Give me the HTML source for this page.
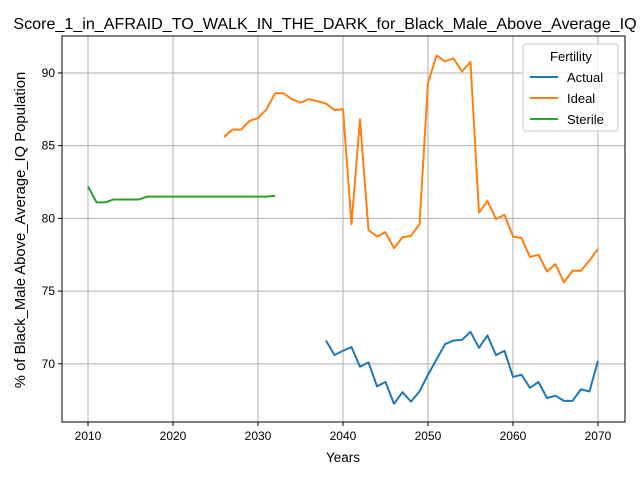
<!DOCTYPE html>
<html><head><meta charset="utf-8"><style>
body{margin:0;background:#fff;}
svg text{font-family:"Liberation Sans","DejaVu Sans",sans-serif;}
</style></head><body>
<svg id="chart" width="640" height="480" xmlns="http://www.w3.org/2000/svg">
<rect width="640" height="480" fill="#fff"/>
<g id="grid"></g>
<g id="series"></g>
<rect x="62" y="36" width="563" height="386" fill="none" stroke="#000" stroke-width="1"/>
<g id="axes"></g>
<text x="325" y="29" font-size="16.1" text-anchor="middle">Score_1_in_AFRAID_TO_WALK_IN_THE_DARK_for_Black_Male_Above_Average_IQ</text>
<text x="343" y="462" font-size="13.5" text-anchor="middle">Years</text>
<text transform="translate(25,230) rotate(-90)" font-size="14.8" text-anchor="middle">% of Black_Male Above_Average_IQ Population</text>
<g>
<rect x="523" y="44" width="95" height="87" rx="3" fill="#fff" fill-opacity="0.8" stroke="#ccc"/>
<text x="571" y="61" font-size="13" text-anchor="middle">Fertility</text>
<g><line x1="530" y1="77" x2="558" y2="77" stroke="#1f77b4" stroke-width="2"/><text x="567" y="82" font-size="13">Actual</text></g>
<g><line x1="530" y1="98" x2="558" y2="98" stroke="#ff7f0e" stroke-width="2"/><text x="567" y="103" font-size="13">Ideal</text></g>
<g><line x1="530" y1="119" x2="558" y2="119" stroke="#2ca02c" stroke-width="2"/><text x="567" y="124" font-size="13">Sterile</text></g>
</g>
</svg>
<script>
const xTicks=[2010,2020,2030,2040,2050,2060,2070];
const yTicks=[70,75,80,85,90];
const actualYears=[2038,2039,2040,2041,2042,2043,2044,2045,2046,2047,2048,2049,2050,2051,2052,2053,2054,2055,2056,2057,2058,2059,2060,2061,2062,2063,2064,2065,2066,2067,2068,2069,2070];
const actualValues=[71.6,70.6,70.9,71.15,69.8,70.1,68.45,68.75,67.25,68.05,67.4,68.1,69.25,70.3,71.35,71.6,71.65,72.2,71.1,71.95,70.6,70.9,69.1,69.25,68.35,68.75,67.65,67.8,67.45,67.45,68.25,68.1,70.2];
const idealYears=[2026,2027,2028,2029,2030,2031,2032,2033,2034,2035,2036,2037,2038,2039,2040,2041,2042,2043,2044,2045,2046,2047,2048,2049,2050,2051,2052,2053,2054,2055,2056,2057,2058,2059,2060,2061,2062,2063,2064,2065,2066,2067,2068,2069,2070];
const idealValues=[85.6,86.1,86.1,86.7,86.9,87.5,88.6,88.6,88.2,87.95,88.2,88.05,87.9,87.45,87.5,79.6,86.8,79.2,78.75,79.05,77.95,78.7,78.8,79.6,89.3,91.2,90.8,91.0,90.1,90.75,80.4,81.2,79.95,80.25,78.75,78.65,77.35,77.5,76.35,76.85,75.6,76.4,76.4,77.1,77.9];
const sterileYears=[2010,2011,2012,2013,2014,2015,2016,2017,2018,2019,2020,2021,2022,2023,2024,2025,2026,2027,2028,2029,2030,2031,2032];
const sterileValues=[82.2,81.1,81.1,81.3,81.3,81.3,81.3,81.5,81.5,81.5,81.5,81.5,81.5,81.5,81.5,81.5,81.5,81.5,81.5,81.5,81.5,81.5,81.55];
const NS='http://www.w3.org/2000/svg';
const X0=62,X1=625,Y0=36,Y1=422,xMin=2006.94,xMax=2073.18,yMin=66.0,yMax=92.54;
function sx(v){return X0+(v-xMin)/(xMax-xMin)*(X1-X0);}
function sy(v){return Y1-(v-yMin)/(yMax-yMin)*(Y1-Y0);}
function mk(t,a,p){const e=document.createElementNS(NS,t);for(const k in a)e.setAttribute(k,a[k]);p.appendChild(e);return e;}
const grid=document.getElementById('grid'),axes=document.getElementById('axes'),series=document.getElementById('series');
xTicks.forEach(t=>{const x=sx(t);
 const g=mk('line',{x1:x,x2:x,y1:Y0,y2:Y1,stroke:'#b0b0b0','stroke-width':1},grid);
 
 
 mk('line',{x1:x,x2:x,y1:Y1,y2:Y1+4,stroke:'#000'},axes);
 const tx=mk('text',{x:x,y:Y1+18,'font-size':12,'text-anchor':'middle'},axes);tx.textContent=t;
 
 });
yTicks.forEach(t=>{const y=sy(t);
 const g=mk('line',{x1:X0,x2:X1,y1:y,y2:y,stroke:'#b0b0b0','stroke-width':1},grid);
 
 
 mk('line',{x1:X0-4,x2:X0,y1:y,y2:y,stroke:'#000'},axes);
 const tx=mk('text',{x:X0-7,y:y+4,'font-size':12,'text-anchor':'end'},axes);tx.textContent=t;
 
 });
function line(xs,ys,c,name){const p=mk('polyline',{points:xs.map((x,i)=>sx(x)+','+sy(ys[i])).join(' '),fill:'none',stroke:c,'stroke-width':2,'stroke-linejoin':'round'},series);
 
 }
line(actualYears,actualValues,'#1f77b4','actual-line');
line(idealYears,idealValues,'#ff7f0e','ideal-line');
line(sterileYears,sterileValues,'#2ca02c','sterile-line');
</script>
</body></html>
